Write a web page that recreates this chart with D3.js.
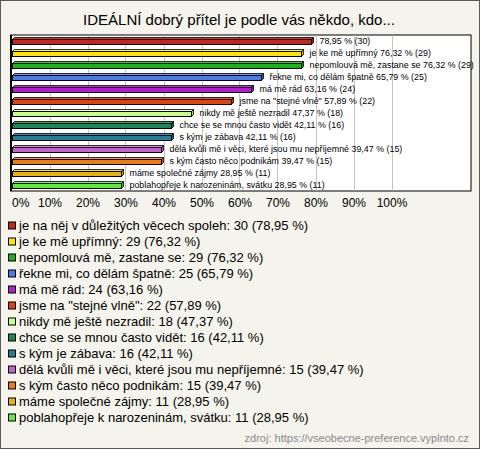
<!DOCTYPE html>
<html><head><meta charset="utf-8">
<script src="https://cdn.jsdelivr.net/npm/d3@7"></script>
<style>
html,body{margin:0;padding:0;background:#fff;}
svg{display:block;}
</style></head>
<body>
<script>
const title = "IDEÁLNÍ dobrý přítel je podle vás někdo, kdo...";
const categories = [
  "je na něj v důležitých věcech spoleh",
  "je ke mě upřímný",
  "nepomlouvá mě, zastane se",
  "řekne mi, co dělám špatně",
  "má mě rád",
  "jsme na \"stejné vlně\"",
  "nikdy mě ještě nezradil",
  "chce se se mnou často vidět",
  "s kým je zábava",
  "dělá kvůli mě i věci, které jsou mu nepříjemné",
  "s kým často něco podnikám",
  "máme společné zájmy",
  "poblahopřeje k narozeninám, svátku"
];
const counts = [30, 29, 29, 25, 24, 22, 18, 16, 16, 15, 15, 11, 11];
const percents = [78.95, 76.32, 76.32, 65.79, 63.16, 57.89, 47.37, 42.11, 42.11, 39.47, 39.47, 28.95, 28.95];
const colors = ["#c1271a","#ffe600","#18b418","#4a7cec","#b41ccc","#e2420c","#ccff88","#168a58","#237c98","#c462d2","#ee7a14","#e8b214","#5aee36"];
const ticks = [0,10,20,30,40,50,60,70,80,90,100];
const source = "zdroj: https://vseobecne-preference.vyplnto.cz";

const W = 480, H = 449;
const svg = d3.select("body").append("svg").attr("width", W).attr("height", H);
svg.append("rect").attr("x",0.5).attr("y",0.5).attr("width",W-1).attr("height",H-1)
  .attr("fill","#f4f3ec").attr("stroke","#5a5a5a");

svg.append("text").attr("x",239).attr("y",25).attr("text-anchor","middle")
  .attr("font-family","Liberation Sans, Arial, sans-serif").attr("font-size",15).attr("fill","#000").text(title);

const plot = {x0:10.5, x1:471, y0:35, y1:191};
const x = d3.scaleLinear().domain([0,100]).range([11.5, 391.5]);
const y = d3.scaleBand().domain(d3.range(categories.length)).range([plot.y0, plot.y1]);

svg.append("rect").attr("x",plot.x0).attr("y",plot.y0).attr("width",plot.x1-plot.x0).attr("height",plot.y1-plot.y0)
  .attr("fill","#fff").attr("stroke","#000");

svg.append("g").selectAll("line").data(ticks.filter(t=>t>0)).join("line")
  .attr("x1",d=>Math.round(x(d))+0.5).attr("x2",d=>Math.round(x(d))+0.5)
  .attr("y1",plot.y0+0.5).attr("y2",plot.y1-0.5).attr("stroke","#c4c4c4");

svg.append("line").attr("x1",plot.x0+0.5).attr("x2",plot.x0+0.5).attr("y1",plot.y0).attr("y2",plot.y1).attr("stroke","#000").attr("stroke-width",2);

function shade(c,k){ return k>0? d3.color(c).brighter(k).formatHex() : d3.color(c).darker(-k).formatHex(); }

const depth = 2;
const bars = svg.append("g").selectAll("g").data(percents).join("g");
bars.each(function(v,i){
  const g = d3.select(this);
  const c = y(i) + y.bandwidth()/2;
  const xa = x(0)+1, xb = x(v);
  const top = c-1.5, bot = c+3.5;
  g.append("path").attr("d",`M${xa},${top}L${xa+depth},${top-depth}L${xb+depth},${top-depth}L${xb},${top}Z`)
    .attr("fill",shade(colors[i],0.6)).attr("stroke","#000").attr("stroke-width",0.8);
  g.append("path").attr("d",`M${xb},${top}L${xb+depth},${top-depth}L${xb+depth},${bot-depth}L${xb},${bot}Z`)
    .attr("fill",shade(colors[i],-0.6)).attr("stroke","#000").attr("stroke-width",0.8);
  g.append("rect").attr("x",xa).attr("y",top).attr("width",xb-xa).attr("height",bot-top)
    .attr("fill",colors[i]).attr("stroke","#000").attr("stroke-width",1);
});

const fmt = v => d3.format(".2f")(v).replace(".",",");
svg.append("g").selectAll("text").data(percents).join("text")
  .attr("x",(d)=>x(d)+8).attr("y",(d,i)=>y(i)+y.bandwidth()/2+3)
  .attr("font-family","Liberation Sans, Arial, sans-serif").attr("font-size",8.9).attr("fill","#000")
  .text((d,i)=> (i===0? "" : categories[i]+" ") + fmt(d)+" % ("+counts[i]+")");

const axis = d3.axisBottom(x).tickValues(ticks).tickFormat(d=>d+"%").tickSize(0).tickPadding(7);
const ax = svg.append("g").attr("transform",`translate(0,${plot.y1})`).call(axis);
ax.select(".domain").remove();
ax.selectAll("text").attr("font-family","Liberation Sans, Arial, sans-serif").attr("font-size",12).attr("fill","#000");
ax.selectAll(".tick").filter(d=>d===0).select("text").attr("text-anchor","start");

const leg = svg.append("g").selectAll("g").data(categories).join("g")
  .attr("transform",(d,i)=>`translate(0,${225.5+i*16})`);
leg.append("rect").attr("x",8.5).attr("y",-3.5).attr("width",7).attr("height",7)
  .attr("fill",(d,i)=>colors[i]).attr("stroke","#000");
leg.append("text").attr("x",19).attr("y",4.5)
  .attr("font-family","Liberation Sans, Arial, sans-serif").attr("font-size",13).attr("fill","#000")
  .text((d,i)=> d+": "+counts[i]+" ("+fmt(percents[i])+" %)");

svg.append("text").attr("x",469).attr("y",442).attr("text-anchor","end")
  .attr("font-family","Liberation Sans, Arial, sans-serif").attr("font-size",11).attr("fill","#8a8a8a").text(source);
</script>
</body></html>
